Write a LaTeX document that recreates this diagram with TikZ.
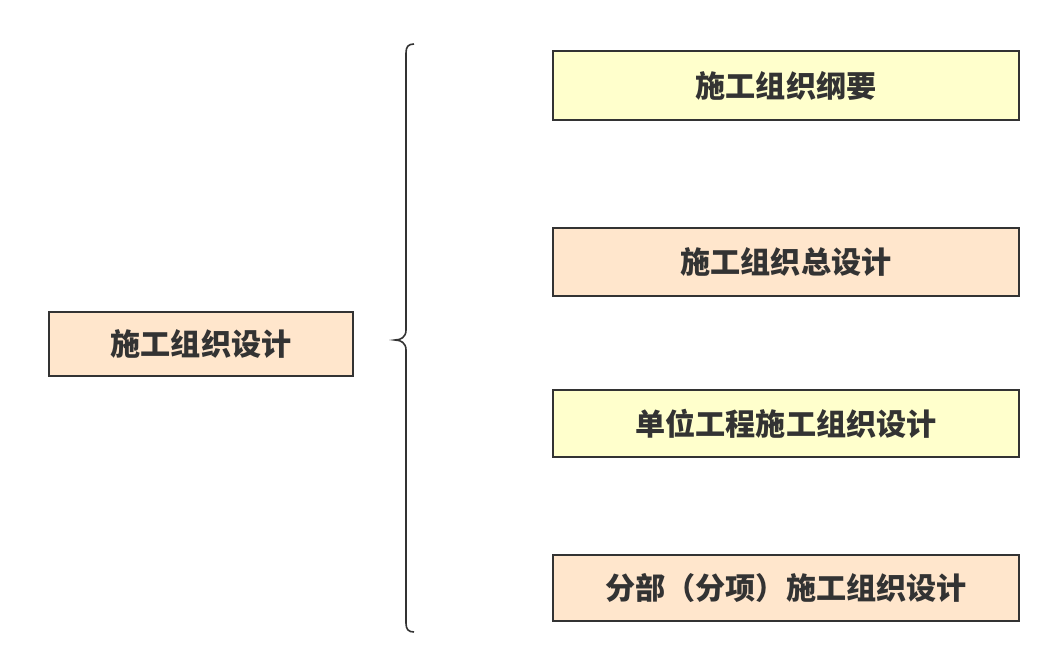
\documentclass[tikz,border=0pt]{standalone}
\usepackage{fontspec}
\setmainfont{Noto Sans CJK SC}[BoldFont={* Black}]
\definecolor{boxline}{HTML}{333333}
\definecolor{peach}{HTML}{FFE6CC}
\definecolor{lemon}{HTML}{FFFFCC}
\tikzset{
  item/.style={draw=boxline, line width=1.5pt, inner sep=0pt, text=boxline,
    font=\fontsize{22.6}{26}\selectfont\bfseries},
}
\begin{document}
\begin{tikzpicture}[x=0.75pt, y=-0.75pt]
            \useasboundingbox (0,0) rectangle (1051,664);

            \node[item, fill=peach, minimum width=228pt, minimum height=48pt] (root) at (201,344) {施工组织设计};

            \node[item, fill=lemon, minimum width=349.5pt, minimum height=51.75pt] (outline) at (786,85.5) {施工组织纲要};
            \node[item, fill=peach, minimum width=349.5pt, minimum height=51pt] (general) at (786,262) {施工组织总设计};
            \node[item, fill=lemon, minimum width=349.5pt, minimum height=50.25pt] (unit) at (786,423.5) {单位工程施工组织设计};
            \node[item, fill=peach, minimum width=349.5pt, minimum height=49.5pt] (part) at (786,588) {分部（分项）施工组织设计};

            \draw[boxline, line width=1.2pt] (414,44) .. controls (408,44) and (406,47) .. (406,53)
                -- (406,330) .. controls (406,337) and (401,340) .. (395,340)
                .. controls (401,340) and (406,343) .. (406,350)
                -- (406,623) .. controls (406,629) and (408,632) .. (414,632);
        \end{tikzpicture}
\end{document}
